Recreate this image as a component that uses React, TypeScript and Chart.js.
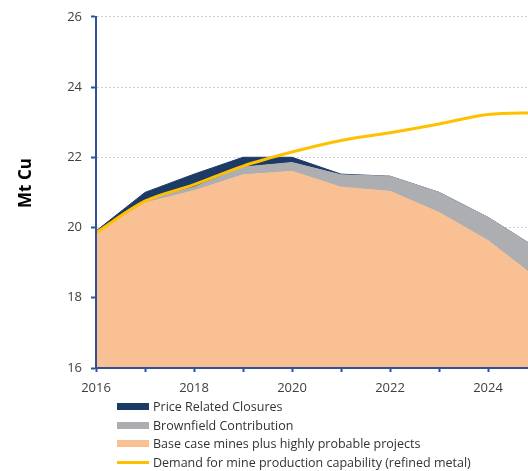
import React, { useEffect, useRef } from "react";
import { Chart, registerables } from "chart.js";

Chart.register(...registerables);

const years = [2016, 2017, 2018, 2019, 2020, 2021, 2022, 2023, 2024, 2025];
// Base case mines plus highly probable projects (Mt Cu)
const baseCase = [19.85, 20.7, 21.05, 21.5, 21.6, 21.15, 21.03, 20.43, 19.63, 18.55];
// Brownfield contribution (increment above base case)
const brownfield = [0.03, 0.08, 0.1, 0.22, 0.25, 0.35, 0.43, 0.57, 0.66, 0.86];
// Price related closures (increment above brownfield)
const priceClosures = [0.02, 0.22, 0.37, 0.28, 0.15, 0.02, 0, 0, 0, 0];
// Demand for mine production capability (refined metal)
const demand = [19.85, 20.75, 21.22, 21.75, 22.15, 22.48, 22.7, 22.95, 23.22, 23.27];

const legendItems = [
  { label: "Price Related Closures", color: "#1b3a66", kind: "box" },
  { label: "Brownfield Contribution", color: "#adaeb1", kind: "box" },
  { label: "Base case mines plus highly probable projects", color: "#f8c093", kind: "box" },
  { label: "Demand for mine production capability (refined metal)", color: "#ffc000", kind: "line" },
];

const AXIS = "#2f529b";
const FONT = '"Open Sans", "Noto Sans", sans-serif';

const yTitlePlugin = {
  id: "yTitle",
  afterDraw(chart: any) {
    const ctx = chart.ctx;
    ctx.save();
    ctx.translate(26, 183);
    ctx.rotate(-Math.PI / 2);
    ctx.font = `bold 17px ${FONT}`;
    ctx.fillStyle = "#000";
    ctx.textAlign = "center";
    ctx.textBaseline = "middle";
    ctx.fillText("Mt Cu", 0, 0);
    ctx.restore();
  },
};

export default function App() {
  const ref = useRef<HTMLCanvasElement | null>(null);

  useEffect(() => {
    if (!ref.current) return;
    const greyTop = baseCase.map((v, i) => v + brownfield[i]);
    const darkTop = greyTop.map((v, i) => v + priceClosures[i]);
    const pts = (arr: number[]) => arr.map((v, i) => ({ x: years[i], y: v }));

    const chart = new Chart(ref.current, {
      type: "line",
      data: {
        datasets: [
          {
            label: "Base case mines plus highly probable projects",
            data: pts(baseCase),
            borderColor: "#f8c093",
            backgroundColor: "#f8c093",
            borderWidth: 1,
            pointRadius: 0,
            fill: "start",
            tension: 0,
          },
          {
            label: "Brownfield Contribution",
            data: pts(greyTop),
            borderColor: "#adaeb1",
            backgroundColor: "#adaeb1",
            borderWidth: 1,
            pointRadius: 0,
            fill: "-1",
            tension: 0,
          },
          {
            label: "Price Related Closures",
            data: pts(darkTop),
            borderColor: "#1b3a66",
            backgroundColor: "#1b3a66",
            borderWidth: 1,
            pointRadius: 0,
            fill: "-1",
            tension: 0,
          },
          {
            label: "Demand for mine production capability (refined metal)",
            data: pts(demand),
            borderColor: "#ffc000",
            backgroundColor: "#ffc000",
            borderWidth: 3,
            pointRadius: 0,
            fill: false,
            cubicInterpolationMode: "monotone",
            order: -1,
          },
        ],
      },
      options: {
        responsive: false,
        devicePixelRatio: 1,
        animation: false,
        layout: { padding: { top: 16, right: 9, left: 0, bottom: 0 } },
        plugins: {
          legend: { display: false },
          tooltip: { enabled: false },
        },
        scales: {
          x: {
            type: "linear",
            min: 2016,
            max: 2025,
            afterFit: (s: any) => {
              s.height = 40;
            },
            grid: {
              drawOnChartArea: false,
              drawTicks: true,
              tickLength: 4,
              tickColor: AXIS,
              tickWidth: 2,
            },
            border: { color: AXIS, width: 2, z: 1 },
            ticks: {
              stepSize: 1,
              autoSkip: false,
              maxRotation: 0,
              padding: 8,
              color: "#404040",
              font: { family: FONT, size: 13 },
              callback: (v: any) => (Number(v) % 2 === 0 ? String(v) : ""),
            },
          },
          y: {
            min: 16,
            max: 26,
            afterFit: (s: any) => {
              s.width = 96;
            },
            grid: {
              color: "#cfcfcf",
              lineWidth: 1,
              drawTicks: true,
              tickLength: 5,
              tickColor: AXIS,
              tickWidth: 2,
              tickBorderDash: [],
            },
            border: { color: AXIS, width: 2, dash: [2, 2], z: 1 },
            ticks: {
              stepSize: 2,
              padding: 9,
              color: "#404040",
              font: { family: FONT, size: 13 },
            },
          },
        },
      },
      plugins: [yTitlePlugin],
    } as any);
    return () => chart.destroy();
  }, []);

  return (
    <div style={{ position: "relative", width: 528, height: 471, overflow: "hidden" }}>
      <style>{"body{margin:0}"}</style>
      <canvas
        ref={ref}
        width={546}
        height={408}
        style={{ display: "block", position: "absolute", left: 0, top: 0, width: 546, height: 408 }}
      />
      {legendItems.map((it, i) => (
        <div
          key={it.label}
          style={{
            position: "absolute",
            left: 117,
            top: [406, 425, 443, 462][i] - 8,
            height: 16,
            display: "flex",
            alignItems: "center",
            whiteSpace: "nowrap",
            fontFamily: FONT,
            fontSize: 12.5,
            color: "#333",
          }}
        >
          <span
            style={{
              display: "inline-block",
              width: 32,
              height: it.kind === "box" ? 7 : 3,
              background: it.color,
              marginRight: 4,
            }}
          />
          <span>{it.label}</span>
        </div>
      ))}
    </div>
  );
}
